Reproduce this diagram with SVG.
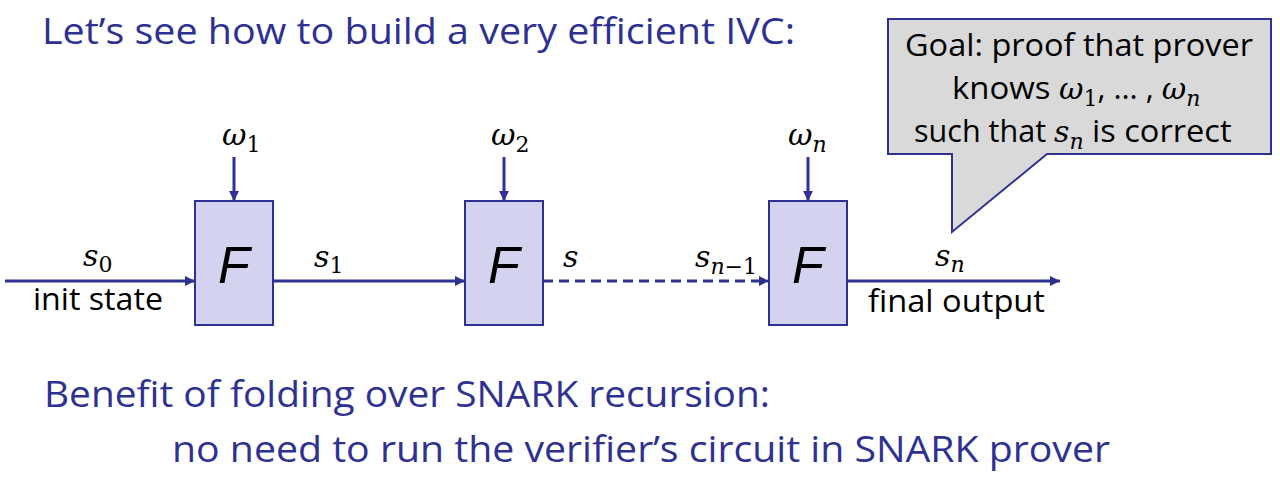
<svg xmlns="http://www.w3.org/2000/svg" width="1280" height="477" viewBox="0 0 1280 477">
<defs>
<marker id="ah" viewBox="0 0 10 10" refX="10" refY="5" markerWidth="10" markerHeight="10" markerUnits="userSpaceOnUse" orient="auto">
<path d="M0,0 L10,5 L0,10 z" fill="#2E3192"/>
</marker>
<style>
.hdr{font-family:"Open Sans","Noto Sans",sans-serif;font-size:36px;fill:#2E3192}
.lbl{font-family:"Open Sans","Noto Sans",sans-serif;font-size:31px;fill:#000}
.math{font-family:"DejaVu Serif","Liberation Serif",serif;font-style:italic;font-size:30px;fill:#000}
.sub{font-family:"DejaVu Serif","Liberation Serif",serif;font-style:normal;font-size:22px}
.subi{font-family:"DejaVu Serif","Liberation Serif",serif;font-style:italic;font-size:22px}
.F{font-family:"Liberation Sans","Noto Sans",sans-serif;font-style:italic;font-size:52px;fill:#000}
.box{fill:#D3D3EF;stroke:#2E3192;stroke-width:2}
.ln{stroke:#2E3192;stroke-width:3;fill:none}
</style>
</defs>
<rect width="1280" height="477" fill="#fff"/>
<text class="hdr" x="42" y="44" textLength="753" lengthAdjust="spacingAndGlyphs">Let’s see how to build a very efficient IVC:</text>
<g id="callout">
<path d="M888,19 L1271,19 L1271,154 L1047,154 L952,232 L952,154 L888,154 Z" fill="#D9D9D9" stroke="#2E3192" stroke-width="2"/>
<text class="lbl" x="905" y="56" textLength="348" lengthAdjust="spacingAndGlyphs">Goal: proof that prover</text>
<text class="lbl" x="952" y="99"><tspan textLength="107" lengthAdjust="spacingAndGlyphs">knows </tspan><tspan class="math">ω</tspan><tspan class="sub" dy="7">1</tspan><tspan dy="-7">, … , </tspan><tspan class="math">ω</tspan><tspan class="subi" dy="7">n</tspan></text>
<text class="lbl" x="914" y="142"><tspan textLength="140" lengthAdjust="spacingAndGlyphs">such that </tspan><tspan class="math">s</tspan><tspan class="subi" dy="7">n</tspan><tspan dy="-7" textLength="148" lengthAdjust="spacingAndGlyphs"> is correct</tspan></text>
</g>
<g id="connectors">
<line class="ln" x1="5" y1="281" x2="195" y2="281" marker-end="url(#ah)"/>
<line class="ln" x1="273" y1="281" x2="465" y2="281" marker-end="url(#ah)"/>
<line class="ln" x1="543" y1="281" x2="769" y2="281" stroke-dasharray="10,6" marker-end="url(#ah)"/>
<line class="ln" x1="847" y1="281" x2="1060" y2="281" marker-end="url(#ah)"/>
<line class="ln" x1="234" y1="157" x2="234" y2="201" marker-end="url(#ah)"/>
<line class="ln" x1="504" y1="157" x2="504" y2="201" marker-end="url(#ah)"/>
<line class="ln" x1="808" y1="157" x2="808" y2="201" marker-end="url(#ah)"/>
</g>
<g id="f1">
<rect class="box" x="195" y="201" width="78" height="124"/>
<text class="F" x="234" y="283" text-anchor="middle">F</text>
</g>
<g id="f2">
<rect class="box" x="465" y="201" width="78" height="124"/>
<text class="F" x="504" y="283" text-anchor="middle">F</text>
</g>
<g id="f3">
<rect class="box" x="769" y="201" width="78" height="124"/>
<text class="F" x="808" y="283" text-anchor="middle">F</text>
</g>
<g id="labels">
<text class="math" x="222" y="145">ω<tspan class="sub" dy="7">1</tspan></text>
<text class="math" x="491" y="145">ω<tspan class="sub" dy="7">2</tspan></text>
<text class="math" x="788" y="145">ω<tspan class="subi" dy="7">n</tspan></text>
<text class="math" x="83" y="266">s<tspan class="sub" dy="6">0</tspan></text>
<text class="lbl" x="33" y="310" textLength="130" lengthAdjust="spacingAndGlyphs">init state</text>
<text class="math" x="314" y="267">s<tspan class="sub" dy="6">1</tspan></text>
<text class="math" x="563" y="267">s</text>
<text class="math" x="695" y="267">s<tspan class="subi" dy="7">n</tspan><tspan class="sub">−1</tspan></text>
<text class="math" x="935" y="266">s<tspan class="subi" dy="6">n</tspan></text>
<text class="lbl" x="868" y="312" textLength="177" lengthAdjust="spacingAndGlyphs">final output</text>
</g>
<text class="hdr" x="44" y="407" textLength="726" lengthAdjust="spacingAndGlyphs">Benefit of folding over SNARK recursion:</text>
<text class="hdr" x="172" y="462" textLength="938" lengthAdjust="spacingAndGlyphs">no need to run the verifier’s circuit in SNARK prover</text>
</svg>
